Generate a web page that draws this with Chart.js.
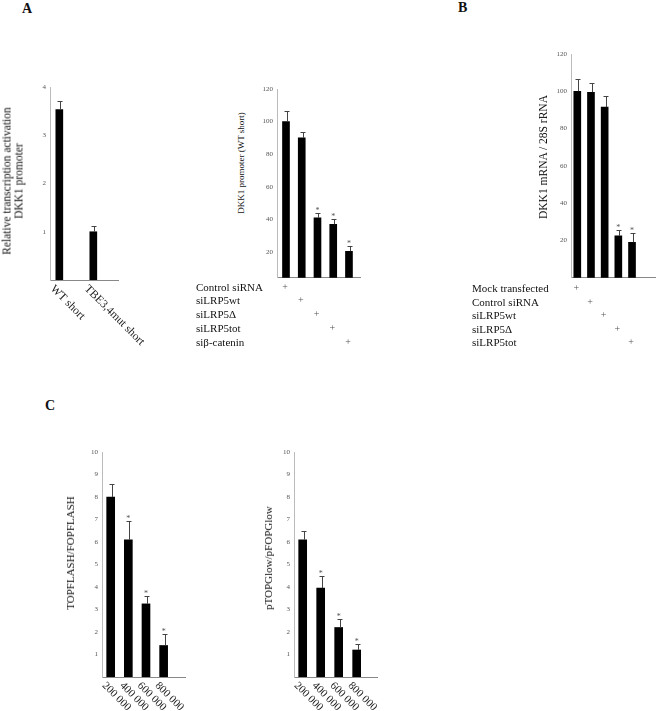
<!DOCTYPE html>
<html>
<head>
<meta charset="utf-8">
<script src="https://cdn.jsdelivr.net/npm/chart.js@4.4.1/dist/chart.umd.min.js"></script>
<style>
  body { margin: 0; background: #fff; }
  #wrap { position: relative; width: 656px; height: 711px; overflow: hidden;
          font-family: 'Liberation Serif', 'Times New Roman', serif; color: #111; }
  canvas { position: absolute; }
  .t { position: absolute; white-space: nowrap; }
  .letter { font-weight: bold; font-size: 14px; line-height: 14px; }
  .ytitle { transform: translate(-50%, -50%) rotate(-90deg); text-align: center; color: #111; }
  .row { font-size: 11px; line-height: 11px; }
  .plus { font-size: 10px; line-height: 12px; color: #555; transform: translateX(-50%); }
</style>
</head>
<body>
<div id="wrap">
  <canvas id="cA1" width="143" height="288" style="left:20px;top:77px"></canvas>
  <canvas id="cA2" width="118" height="207" style="left:247px;top:79px"></canvas>
  <canvas id="cB" width="115" height="242" style="left:541px;top:44px"></canvas>
  <canvas id="cC1" width="143" height="269" style="left:72px;top:442px"></canvas>
  <canvas id="cC2" width="143" height="269" style="left:264px;top:442px"></canvas>

  <div class="t letter" style="left:22px;top:2px">A</div>
  <div class="t letter" style="left:458px;top:1px">B</div>
  <div class="t letter" style="left:45px;top:399px">C</div>

  <div class="t ytitle" style="left:13px;top:181px;font-size:11.5px;line-height:11.5px">Relative transcription activation<br>DKK1 promoter</div>
  <div class="t ytitle" style="left:241px;top:163px;font-size:9px">DKK1 promoter (WT short)</div>
  <div class="t ytitle" style="left:543px;top:157px;font-size:11.5px">DKK1 mRNA / 28S rRNA</div>
  <div class="t ytitle" style="left:70px;top:553px;font-size:11px">TOPFLASH/FOPFLASH</div>
  <div class="t ytitle" style="left:268px;top:558px;font-size:11px">pTOPGlow/pFOPGlow</div>
  <div id="tables"></div>
</div>
<script>
// A, left: promoter constructs
const a1Labels = ['WT short', 'TBE3,4mut short'];
const a1Values = [3.53, 1.0];
const a1Err = [0.19, 0.12];
const a1Ticks = [1, 2, 3, 4];

// A, right: siRNA on WT short promoter
const a2Rows = ['Control siRNA', 'siLRP5wt', 'siLRP5Δ', 'siLRP5tot', 'siβ-catenin'];
const a2Values = [100, 90, 41, 37, 20.5];
const a2Err = [6.5, 3.5, 3, 3, 3];
const a2Star = [false, false, true, true, true];
const a2Ticks = [20, 40, 60, 80, 100, 120];

// B: DKK1 mRNA
const bRows = ['Mock transfected', 'Control siRNA', 'siLRP5wt', 'siLRP5Δ', 'siLRP5tot'];
const bValues = [100, 99.5, 91.5, 22.5, 19];
const bErr = [6.5, 5, 6, 3, 5];
const bStar = [false, false, false, true, true];
const bTicks = [20, 40, 60, 80, 100, 120];

// C: cell numbers
const cLabels = ['200 000', '400 000', '600 000', '800 000'];
const c1Values = [8.0, 6.1, 3.25, 1.4];
const c1Err = [0.6, 0.85, 0.35, 0.5];
const c2Values = [6.1, 3.95, 2.2, 1.2];
const c2Err = [0.4, 0.55, 0.37, 0.28];
const cStar = [false, true, true, true];
const cTicks = [1, 2, 3, 4, 5, 6, 7, 8, 9, 10];

const serif = "'Liberation Serif', 'Times New Roman', serif";

const errBars = {
  id: 'errBars',
  afterDatasetsDraw(chart, args, opts) {
    const ctx = chart.ctx;
    const y = chart.scales.y;
    const pts = chart.data.datasets[0].data;
    ctx.save();
    ctx.strokeStyle = '#444';
    ctx.lineWidth = 1;
    ctx.fillStyle = '#555';
    ctx.font = '8px ' + serif;
    ctx.textAlign = 'center';
    ctx.textBaseline = 'bottom';
    chart.getDatasetMeta(0).data.forEach((bar, i) => {
      const top = Math.round(y.getPixelForValue(pts[i].y + opts.err[i])) + 0.5;
      const sx = Math.round(bar.x + 1) + 0.5;
      ctx.beginPath();
      ctx.moveTo(sx, bar.y);
      ctx.lineTo(sx, top);
      ctx.moveTo(sx - 3, top);
      ctx.lineTo(sx + 2, top);
      ctx.stroke();
      if (opts.star && opts.star[i]) ctx.fillText('*', bar.x, top + 1);
    });
    ctx.restore();
  }
};

const slantLabels = {
  id: 'slantLabels',
  afterDraw(chart, args, opts) {
    if (!opts.labels) return;
    const ctx = chart.ctx;
    const x = chart.scales.x;
    const bottom = chart.chartArea.bottom;
    ctx.save();
    ctx.font = opts.size + 'px ' + serif;
    ctx.fillStyle = '#222';
    ctx.textAlign = 'left';
    ctx.textBaseline = 'top';
    opts.labels.forEach((t, i) => {
      ctx.save();
      ctx.translate(x.getPixelForValue(i + 1) - 3, bottom + 3);
      ctx.rotate(Math.PI / 4);
      ctx.fillText(t, 0, 0);
      ctx.restore();
    });
    ctx.restore();
  }
};

function barChart(id, values, err, star, ticks, xr, yr, pad, xh, bw, slant) {
  return new Chart(document.getElementById(id), {
    type: 'bar',
    data: {
      datasets: [{
        data: values.map((v, i) => ({x: i + 1, y: v})),
        backgroundColor: '#000',
        barThickness: bw
      }]
    },
    options: {
      responsive: false,
      animation: false,
      events: [],
      layout: {padding: {top: 10, right: pad, left: 0, bottom: 0}},
      plugins: {
        legend: {display: false},
        tooltip: {enabled: false},
        errBars: {err: err, star: star},
        slantLabels: slant || {}
      },
      scales: {
        x: {
          type: 'linear', min: xr[0], max: xr[1], offset: false,
          grid: {display: false, drawTicks: false},
          border: {color: '#888'},
          ticks: {display: false},
          afterFit: s => { s.height = xh; }
        },
        y: {
          min: yr[0], max: yr[1],
          grid: {display: false, drawTicks: false},
          border: {color: '#bbb'},
          ticks: {font: {family: serif, size: 7}, color: '#555', padding: 4},
          afterBuildTicks: s => { s.ticks = ticks.map(v => ({value: v})); },
          afterFit: s => { s.width = 30; }
        }
      }
    },
    plugins: [errBars, slantLabels]
  });
}

barChart('cA1', a1Values, a1Err, null, a1Ticks, [0.726, 2.726], [0, 4], 45, 85, 7,
  {labels: a1Labels, size: 11.5});
const chA2 = barChart('cA2', a2Values, a2Err, a2Star, a2Ticks, [0.429, 5.70], [4.25, 120], 5, 6, 7);
const chB = barChart('cB', bValues, bErr, bStar, bTicks, [0.54, 6.68], [0, 120], 1, 6, 7);
barChart('cC1', c1Values, c1Err, cStar, cTicks, [0.508, 5.21], [0, 10], 30, 34, 8,
  {labels: cLabels, size: 11});
barChart('cC2', c2Values, c2Err, cStar, cTicks, [0.517, 5.13], [0, 10], 30, 34, 8,
  {labels: cLabels, size: 11});

// treatment tables under A right and B
function table(chart, rows, left, top0, step) {
  const box = document.getElementById('tables');
  const cv = chart.canvas;
  rows.forEach((r, i) => {
    const cy = top0 + i * step;
    const lab = document.createElement('div');
    lab.className = 't row';
    lab.style.left = left + 'px';
    lab.style.top = (cy - 5) + 'px';
    lab.textContent = r;
    box.appendChild(lab);
    const p = document.createElement('div');
    p.className = 't plus';
    p.style.left = (cv.offsetLeft + chart.scales.x.getPixelForValue(i + 1) - 1) + 'px';
    p.style.top = (cy - 6) + 'px';
    p.textContent = '+';
    box.appendChild(p);
  });
}
table(chA2, a2Rows, 196, 286.7, 13.75);
table(chB, bRows, 472, 288.3, 13.5);
</script>
</body>
</html>
